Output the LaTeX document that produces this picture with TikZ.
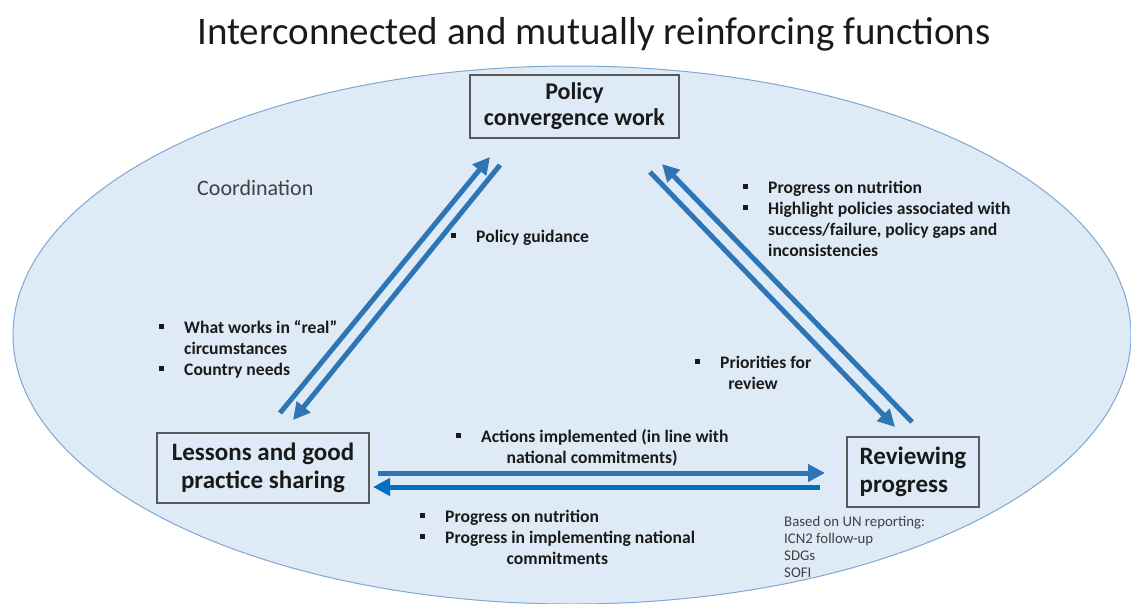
\documentclass[tikz,border=0pt]{standalone}
\usepackage{fontspec}
\setmainfont{Carlito}
\usetikzlibrary{arrows.meta}
\definecolor{ellfill}{HTML}{DEEBF7}
\definecolor{elldraw}{HTML}{7FA7D3}
\definecolor{arr}{HTML}{2E75B6}
\definecolor{arrb}{HTML}{0070C0}
\definecolor{boxdraw}{HTML}{595959}
\definecolor{txt}{HTML}{1A1A1A}
\definecolor{smalltxt}{HTML}{404040}
\newcommand\bul{\makebox[25.5pt][l]{\rule[4.5pt]{5pt}{5pt}}}
\newcommand\ctr[1]{\multicolumn{1}{@{}c@{}}{#1}}
\begin{document}
\begin{tikzpicture}[x=1pt,y=-1pt,
  funcbox/.style={draw=boxdraw,line width=1.2pt,inner sep=0pt,text=txt,
    font=\fontsize{24}{26}\selectfont\bfseries},
  lbl/.style={inner sep=0pt,anchor=base west,text=txt,
    font=\fontsize{17.6}{21.2}\selectfont\bfseries},
  flow/.style={draw=arr,line width=5pt,-{Triangle[length=17pt,width=17pt]}},
]
\useasboundingbox (0,0) rectangle (1131,603);
% background ellipse
\filldraw[fill=ellfill,draw=elldraw,line width=1pt] (572,335) ellipse [x radius=559, y radius=269];

% title
\node[inner sep=0pt,anchor=base,text=txt,font=\fontsize{39}{44}\selectfont] (title) at (594,44)
  {Interconnected and mutually reinforcing functions};

% function boxes
\node[funcbox,align=center,minimum width=209,minimum height=63] (policy) at (574.5,106.5)
  {Policy\\convergence work};
\node[funcbox,align=center,minimum width=212,minimum height=70,
  font=\fontsize{25}{28}\selectfont\bfseries] (lessons) at (263,468)
  {Lessons and good\\practice sharing};
\node[funcbox,align=left,minimum width=132,minimum height=70,
  font=\fontsize{25}{28}\selectfont\bfseries] (review) at (913,472)
  {Reviewing\\progress};

% arrow end points
\coordinate (a1s) at (280,413); \coordinate (a1e) at (490,157);
\coordinate (a2s) at (500,165); \coordinate (a2e) at (293,420);
\coordinate (a3s) at (650,172); \coordinate (a3e) at (895,427);
\coordinate (a4s) at (912,422); \coordinate (a4e) at (662,164);
\coordinate (a5s) at (378,473); \coordinate (a5e) at (825,473);
\coordinate (a6s) at (820,487); \coordinate (a6e) at (373,487);

\draw[flow] (a1s) -- (a1e);
\draw[flow] (a2s) -- (a2e);
\draw[flow] (a3s) -- (a3e);
\draw[flow] (a4s) -- (a4e);
\draw[flow] (a5s) -- (a5e);
\draw[flow,draw=arrb] (a6s) -- (a6e);

% labels
\node[inner sep=0pt,anchor=base west,text=smalltxt,font=\fontsize{22}{26}\selectfont] (coord) at (197,195) {Coordination};

\node[lbl] (lguid) at (450.5,242) {\bul Policy guidance};

\node[lbl] (lprog) at (742.5,193) {\begin{tabular}[t]{@{}l@{}}
  \bul Progress on nutrition\\
  \bul Highlight policies associated with\\
  \hspace{25.5pt}success/failure, policy gaps and\\
  \hspace{25.5pt}inconsistencies
\end{tabular}};

\node[lbl] (lworks) at (158.5,333) {\begin{tabular}[t]{@{}l@{}}
  \bul What works in “real”\\
  \hspace{25.5pt}circumstances\\
  \bul Country needs
\end{tabular}};

\node[lbl] (lprio) at (694.5,368) {\begin{tabular}[t]{@{}l@{}}
  \bul Priorities for\\
  \ctr{review}
\end{tabular}};

\node[lbl] (lact) at (455.5,442) {\begin{tabular}[t]{@{}l@{}}
  \bul Actions implemented (in line with\\
  \ctr{national commitments)}
\end{tabular}};

\node[lbl] (lnut) at (419.5,522) {\begin{tabular}[t]{@{}l@{}}
  \bul Progress on nutrition\\
  \bul Progress in implementing national\\
  \ctr{commitments}
\end{tabular}};

\node[inner sep=0pt,anchor=base west,text=smalltxt,font=\fontsize{14.8}{17}\selectfont] (lbased) at (784,526)
{\begin{tabular}[t]{@{}l@{}}
  Based on UN reporting:\\
  ICN2 follow-up\\
  SDGs\\
  SOFI
\end{tabular}};
\end{tikzpicture}
\end{document}
